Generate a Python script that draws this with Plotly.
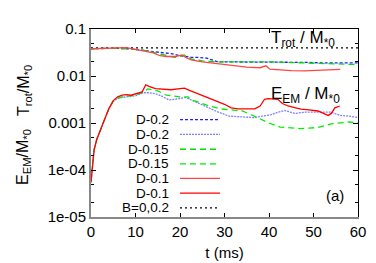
import plotly.graph_objects as go

# ---------------- data ----------------
t_trot_b0 = [0, 60]
trot_b0 = [0.0395, 0.0395]

t_trot_d02 = [0, 3, 5, 8, 10, 12, 14, 15.7, 18, 20, 22.5, 24, 26, 28.5, 32, 36, 40, 44, 48, 52, 56, 60]
trot_d02 = [0.038, 0.0385, 0.039, 0.038, 0.037, 0.035, 0.033, 0.032, 0.030, 0.027, 0.025, 0.025, 0.024, 0.020, 0.020, 0.020, 0.020, 0.0195, 0.0195, 0.019, 0.019, 0.019]

t_trot_d015 = [0, 3, 5, 8, 10, 12, 14, 16, 18.7, 20, 21, 22.5, 25, 28, 32, 36, 40, 44, 48, 52, 56, 60]
trot_d015 = [0.038, 0.0385, 0.039, 0.038, 0.037, 0.035, 0.032, 0.029, 0.025, 0.026, 0.028, 0.023, 0.021, 0.020, 0.020, 0.0205, 0.020, 0.0195, 0.019, 0.019, 0.018, 0.0175]

t_trot_d01 = [0, 3, 6, 8, 10, 12, 14, 15.5, 17, 19, 20.5, 21.2, 22.5, 25, 28, 31, 35, 38, 39.3, 40.2, 42, 45, 48, 50, 52, 55, 56]
trot_d01 = [0.038, 0.039, 0.040, 0.040, 0.037, 0.034, 0.031, 0.027, 0.026, 0.026, 0.028, 0.025, 0.022, 0.020, 0.0185, 0.017, 0.0155, 0.015, 0.0165, 0.014, 0.0135, 0.013, 0.0128, 0.013, 0.0135, 0.0138, 0.0138]

t_eem_d02 = [0, 0.2, 0.7, 1.3, 2, 3, 4, 5, 6, 7, 8, 10, 11.7, 13, 14.5, 16, 17.5, 19, 21.3, 22.5, 24, 26, 28, 31, 33, 36.8, 38.5, 40.5, 42, 43.5, 45.8, 48, 51, 54, 56, 58, 60]
eem_d02 = [5.5e-5, 1e-4, 2.7e-4, 4.5e-4, 6.5e-4, 1.1e-3, 2.0e-3, 2.9e-3, 3.3e-3, 3.5e-3, 3.6e-3, 3.8e-3, 4.4e-3, 4.4e-3, 4.2e-3, 3.7e-3, 3.1e-3, 3.2e-3, 3.5e-3, 3.1e-3, 2.7e-3, 2.2e-3, 1.8e-3, 1.4e-3, 1.35e-3, 1.3e-3, 1.4e-3, 1.5e-3, 1.7e-3, 1.85e-3, 1.6e-3, 1.7e-3, 1.7e-3, 1.7e-3, 1.45e-3, 1.4e-3, 1.3e-3]

t_eem_d015 = [0, 0.2, 0.7, 1.3, 2, 3, 4, 5, 6, 7, 9, 11, 12.8, 14, 15, 17, 18.5, 20, 21.8, 22.5, 24, 26, 29, 32.3, 34, 36, 38, 40, 42.5, 45, 47, 49, 51, 54, 56, 58, 60]
eem_d015 = [5.5e-5, 1e-4, 2.7e-4, 4.5e-4, 6.5e-4, 1.1e-3, 2.0e-3, 2.9e-3, 3.4e-3, 3.6e-3, 3.8e-3, 4.2e-3, 5.3e-3, 5.0e-3, 4.8e-3, 3.9e-3, 3.7e-3, 3.6e-3, 3.6e-3, 3.1e-3, 2.8e-3, 2.4e-3, 2.0e-3, 1.85e-3, 1.8e-3, 1.5e-3, 1.2e-3, 1.0e-3, 8.2e-4, 7.8e-4, 7.6e-4, 7.8e-4, 8.0e-4, 9.6e-4, 1.0e-3, 1.05e-3, 1.0e-3]

t_eem_d01 = [0, 0.2, 0.7, 1.3, 2, 3, 4, 5, 6, 7, 8, 9, 10, 11, 11.5, 12.3, 13, 14.5, 16, 18, 20, 21, 22, 23.5, 25, 27, 28.5, 30, 31.5, 33, 35, 36.8, 38, 39, 39.8, 41, 42, 43, 44.3, 46, 47.2, 49, 51, 53.3, 54, 54.8, 55.9]
eem_d01 = [5.5e-5, 1e-4, 2.7e-4, 4.5e-4, 6.5e-4, 1.1e-3, 2.0e-3, 3.0e-3, 3.6e-3, 3.9e-3, 4.0e-3, 3.9e-3, 4.2e-3, 4.4e-3, 4.6e-3, 6.5e-3, 6.0e-3, 5.4e-3, 5.2e-3, 5.1e-3, 5.4e-3, 5.5e-3, 5.0e-3, 4.4e-3, 3.9e-3, 3.3e-3, 2.8e-3, 2.5e-3, 2.1e-3, 2.0e-3, 2.0e-3, 2.0e-3, 2.3e-3, 3.2e-3, 3.3e-3, 3.3e-3, 3.2e-3, 2.6e-3, 2.3e-3, 2.1e-3, 1.97e-3, 1.9e-3, 1.8e-3, 1.45e-3, 1.6e-3, 2.1e-3, 2.3e-3]

legend_labels = ["D-0.2", "D-0.2", "D-0.15", "D-0.15", "D-0.1", "D-0.1", "B=0,0.2"]

x_ticks = [0, 10, 20, 30, 40, 50, 60]
y_ticks = [1e-5, 1e-4, 1e-3, 1e-2, 1e-1]
y_ticktext = ["1e-05", "1e-04", "0.001", "0.01", "0.1"]
y_minor = [m * 10.0 ** e for e in range(-5, -1) for m in (2, 5)]

# ---------------- styles ----------------
styles = [
    dict(color="#2020ff", dash="3px,2px"),   # D-0.2 (Trot)
    dict(color="#8080ff", dash="2px,1px"),   # D-0.2 (EEM)
    dict(color="#00dd00", dash="6px,4px"),   # D-0.15
    dict(color="#00ee00", dash="6px,4px"),   # D-0.15
    dict(color="#ff4545", dash="solid"),     # D-0.1
    dict(color="#ff0000", dash="solid"),     # D-0.1
    dict(color="#000000", dash="2px,3px"),   # B=0,0.2
]
series = [
    (t_trot_d02, trot_d02),
    (t_eem_d02, eem_d02),
    (t_trot_d015, trot_d015),
    (t_eem_d015, eem_d015),
    (t_trot_d01, trot_d01),
    (t_eem_d01, eem_d01),
    (t_trot_b0, trot_b0),
]

FONT = "Liberation Sans, Arial, sans-serif"
fig = go.Figure()
draw_order = [6, 0, 1, 2, 3, 4, 5]
for i in draw_order:
    xs, ys = series[i]
    st = styles[i]
    fig.add_trace(go.Scatter(x=xs, y=ys, mode="lines", name=legend_labels[i],
                             line=dict(color=st["color"], dash=st["dash"], width=1.3),
                             showlegend=False, hoverinfo="skip"))

# dummy trace to create mirrored top/right axes
fig.add_trace(go.Scatter(x=[None], y=[None], xaxis="x2", yaxis="y2",
                         showlegend=False, hoverinfo="skip"))

L, R, T, B = 83, 350, 19, 216
W, H = 376, 263
pw, ph = R - L, B - T

def px(x):
    return (x - L) / pw

def py(y):
    return (B - y) / ph

# custom legend: label on the left, sample on the right
row_y = [114, 129.5, 145, 160.3, 175.6, 191, 206.5]
annotations = []
shapes = []
for i, lab in enumerate(legend_labels):
    annotations.append(dict(x=px(162), y=py(row_y[i]), xref="paper", yref="paper",
                            text=lab, showarrow=False, xanchor="right", yanchor="middle",
                            borderpad=0,
                            font=dict(family=FONT, size=13.5, color="black")))
    shapes.append(dict(type="line", xref="paper", yref="paper",
                       x0=px(172), x1=px(212), y0=py(row_y[i]), y1=py(row_y[i]),
                       line=dict(color=styles[i]["color"], dash=styles[i]["dash"], width=1.3)))

annotations += [
    dict(x=px(261), y=py(30), xref="paper", yref="paper", xanchor="left", yanchor="middle",
         text="T<sub>rot</sub> / M<sub>*0</sub>", showarrow=False,
         font=dict(family=FONT, size=17, color="black")),
    dict(x=px(261), y=py(88), xref="paper", yref="paper", xanchor="left", yanchor="middle",
         text="E<sub>EM</sub> / M<sub>*0</sub>", showarrow=False,
         font=dict(family=FONT, size=17, color="black")),
    dict(x=px(327), y=py(193), xref="paper", yref="paper", xanchor="center", yanchor="middle",
         text="(a)", showarrow=False, font=dict(family=FONT, size=15, color="black")),
    dict(x=px(16), y=py(84), xref="paper", yref="paper", xanchor="center", yanchor="middle",
         text="T<sub>rot</sub>/M<sub>*0</sub>", textangle=-90, showarrow=False,
         font=dict(family=FONT, size=16, color="black")),
    dict(x=px(16), y=py(153), xref="paper", yref="paper", xanchor="center", yanchor="middle",
         text="E<sub>EM</sub>/M<sub>*0</sub>", textangle=-90, showarrow=False,
         font=dict(family=FONT, size=16, color="black")),
]

common_x = dict(range=[0, 60], showgrid=False, zeroline=False, ticks="inside",
                ticklen=4, tickcolor="black", tickvals=x_ticks)
common_y = dict(type="log", range=[-5, -1], showgrid=False, zeroline=False, ticks="inside",
                ticklen=5, tickcolor="black", tickvals=y_ticks, ticktext=y_ticktext,
                minor=dict(tickvals=y_minor, ticks="inside", ticklen=3, tickcolor="black",
                           showgrid=False))

fig.update_layout(
    width=W, height=H,
    margin=dict(l=L, r=W - R, t=T, b=H - B, pad=0),
    paper_bgcolor="white", plot_bgcolor="white",
    font=dict(family=FONT, size=15, color="black"),
    xaxis=dict(**common_x, showline=True, linecolor="#888888", linewidth=2,
               tickfont=dict(family=FONT, size=15, color="black"),
               title=dict(text="t (ms)", font=dict(family=FONT, size=15), standoff=8)),
    yaxis=dict(**common_y, showline=True, linecolor="#888888", linewidth=2,
               tickfont=dict(family=FONT, size=15, color="black")),
    xaxis2=dict(**common_x, overlaying="x", side="top", showticklabels=False,
                showline=True, linecolor="black", linewidth=1),
    yaxis2=dict(**common_y, overlaying="y", side="right", showticklabels=False,
                showline=True, linecolor="black", linewidth=1),
    annotations=annotations,
    shapes=shapes,
    showlegend=False,
)

fig.write_html("out.html")
